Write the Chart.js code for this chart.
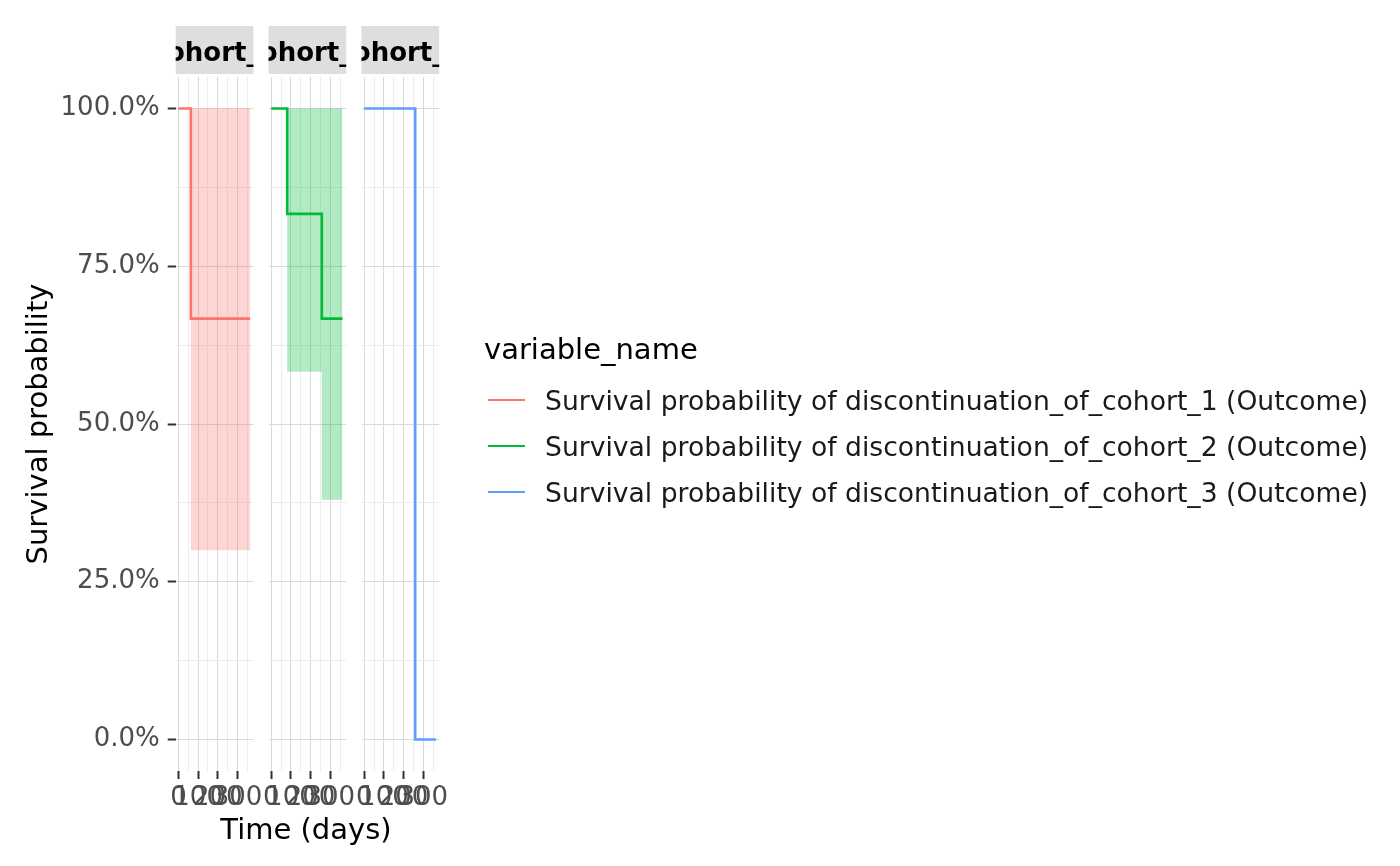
<!DOCTYPE html>
<html>
<head>
<meta charset="utf-8">
<title>Survival probability</title>
<script src="https://cdn.jsdelivr.net/npm/chart.js@4.4.1/dist/chart.umd.min.js"></script>
<style>
  body { margin: 0; width: 1400px; height: 866px; background: #fff; position: relative; overflow: hidden; font-family: 'DejaVu Sans', sans-serif; }
  canvas.panel { position: absolute; left: 0; top: 0; }
  #x-title { position: absolute; left: 206px; width: 200px; top: 815px; text-align: center; font-size: 29px; line-height: 1; color: #000; white-space: nowrap; }
  #legend-title { position: absolute; left: 484px; top: 335px; font-size: 29px; line-height: 1; color: #000; white-space: nowrap; }
  .leg-key { position: absolute; left: 488px; width: 37px; height: 2px; }
  .leg-text { position: absolute; left: 545px; font-size: 26.6px; line-height: 1; color: #1a1a1a; white-space: nowrap; }
</style>
</head>
<body>
<canvas id="p1" class="panel" width="1400" height="866"></canvas>
<canvas id="p2" class="panel" width="1400" height="866"></canvas>
<canvas id="p3" class="panel" width="1400" height="866"></canvas>
<div id="x-title">Time (days)</div>
<div id="legend"></div>
<script>
// facets and series
var cohorts = ['cohort_1', 'cohort_2', 'cohort_3'];
var seriesNames = [
    'Survival probability of discontinuation_of_cohort_1 (Outcome)',
    'Survival probability of discontinuation_of_cohort_2 (Outcome)',
    'Survival probability of discontinuation_of_cohort_3 (Outcome)'
];
var colours = ['#F8766D', '#00BA38', '#619CFF'];
var ribbons = ['rgba(248,118,109,0.3)', 'rgba(0,186,56,0.3)', null];

// values (time in days, probability 0..1)
var time1 = [0, 63, 365];
var surv1 = [1, 0.667, 0.667];
var lower1 = [1, 0.30, 0.30];
var upper1 = [1, 1, 1];

var time2 = [0, 81, 257, 362];
var surv2 = [1, 0.833, 0.667, 0.667];
var lower2 = [1, 0.583, 0.38, 0.38];
var upper2 = [1, 1, 1, 1];

var time3 = [0, 259, 365];
var surv3 = [1, 0, 0];

// axes
var xMajor = [0, 100, 200, 300];
var xMinor = [50, 150, 250, 350];
var xLabels = ['0', '100', '200', '300'];
var yMajor = [0, 0.25, 0.5, 0.75, 1];
var yMinor = [0.125, 0.375, 0.625, 0.875];
var yLabels = ['0.0%', '25.0%', '50.0%', '75.0%', '100.0%'];

var panelLeft = [175.7, 268.5, 361.5];
var panelWidth = 77.7;

Chart.defaults.font.family = "'DejaVu Sans', sans-serif";

function pts(t, v) {
    return t.map(function (x, i) { return { x: x, y: v[i] }; });
}

function sortedTicks(a, b) {
    return a.concat(b).sort(function (p, q) { return p - q; }).map(function (v) { return { value: v }; });
}

var stripPlugin = {
    id: 'strip',
    afterDraw: function (chart, args, opts) {
        var ctx = chart.ctx, area = chart.chartArea;
        var w = area.right - area.left;
        ctx.save();
        ctx.fillStyle = '#dedede';
        ctx.fillRect(area.left, 26, w, 48);
        ctx.beginPath();
        ctx.rect(area.left, 26, w, 48);
        ctx.clip();
        ctx.fillStyle = '#000';
        ctx.font = "bold 26px 'DejaVu Sans'";
        ctx.textAlign = 'center';
        ctx.textBaseline = 'alphabetic';
        ctx.fillText(opts.text, (area.left + area.right) / 2, 60.7);
        ctx.restore();
    }
};

function makePanel(i, datasets) {
    var first = (i === 0);
    var left = panelLeft[i];
    new Chart(document.getElementById('p' + (i + 1)), {
        type: 'line',
        data: { datasets: datasets },
        plugins: [stripPlugin],
        options: {
            responsive: false,
            animation: false,
            layout: {
                padding: { left: first ? 0 : left, right: 1400 - left - panelWidth, top: 77, bottom: 0 }
            },
            plugins: {
                legend: { display: false },
                tooltip: { enabled: false },
                strip: { text: cohorts[i] }
            },
            scales: {
                x: {
                    type: 'linear',
                    min: -14,
                    max: 381,
                    afterBuildTicks: function (s) { s.ticks = sortedTicks(xMajor, xMinor); },
                    afterFit: function (s) { s.height = 95; },
                    border: { display: false },
                    grid: {
                        color: function (c) { return xMajor.indexOf(c.tick.value) >= 0 ? '#d9d9d9' : '#ececec'; },
                        tickColor: function (c) { return xMajor.indexOf(c.tick.value) >= 0 ? '#333333' : 'rgba(0,0,0,0)'; },
                        tickLength: 8,
                        tickWidth: 2,
                        lineWidth: 1
                    },
                    ticks: {
                        autoSkip: false,
                        maxRotation: 0,
                        minRotation: 0,
                        padding: 4,
                        color: '#4d4d4d',
                        font: { size: 26 },
                        callback: function (v) {
                            var k = xMajor.indexOf(v);
                            return k >= 0 ? xLabels[k] : '';
                        }
                    }
                },
                y: {
                    type: 'linear',
                    min: -0.05,
                    max: 1.05,
                    afterBuildTicks: function (s) { s.ticks = sortedTicks(yMajor, yMinor); },
                    afterFit: function (s) { s.width = first ? left : 0; },
                    border: { display: false },
                    grid: {
                        color: function (c) { return yMajor.indexOf(c.tick.value) >= 0 ? '#d9d9d9' : '#ececec'; },
                        tickColor: function (c) { return yMajor.indexOf(c.tick.value) >= 0 ? '#333333' : 'rgba(0,0,0,0)'; },
                        drawTicks: first,
                        tickLength: 8,
                        tickWidth: 2,
                        lineWidth: 1
                    },
                    ticks: {
                        display: first,
                        padding: 8,
                        color: '#4d4d4d',
                        font: { size: 26 },
                        callback: function (v) {
                            var k = yMajor.indexOf(v);
                            return k >= 0 ? yLabels[k] : '';
                        }
                    },
                    title: {
                        display: first,
                        text: 'Survival probability',
                        color: '#000',
                        font: { size: 29 },
                        padding: { top: 21.6, bottom: 0 }
                    }
                }
            }
        }
    });
}

function survLine(i, t, s) {
    return { data: pts(t, s), borderColor: colours[i], borderWidth: 2.6, stepped: true, pointRadius: 0, fill: false };
}
function ribbonUpper(i, t, u) {
    return { data: pts(t, u), borderColor: 'rgba(0,0,0,0)', borderWidth: 0, stepped: true, pointRadius: 0, fill: '+1', backgroundColor: ribbons[i] };
}
function ribbonLower(t, l) {
    return { data: pts(t, l), borderColor: 'rgba(0,0,0,0)', borderWidth: 0, stepped: true, pointRadius: 0, fill: false };
}

makePanel(0, [survLine(0, time1, surv1), ribbonUpper(0, time1, upper1), ribbonLower(time1, lower1)]);
makePanel(1, [survLine(1, time2, surv2), ribbonUpper(1, time2, upper2), ribbonLower(time2, lower2)]);
makePanel(2, [survLine(2, time3, surv3)]);

// legend
var legend = document.getElementById('legend');
var title = document.createElement('div');
title.id = 'legend-title';
title.textContent = 'variable_name';
legend.appendChild(title);
for (var k = 0; k < seriesNames.length; k++) {
    var key = document.createElement('div');
    key.className = 'leg-key';
    key.style.top = (399 + 46 * k) + 'px';
    key.style.background = colours[k];
    legend.appendChild(key);
    var txt = document.createElement('div');
    txt.className = 'leg-text';
    txt.style.top = (388 + 46 * k) + 'px';
    txt.textContent = seriesNames[k];
    legend.appendChild(txt);
}
</script>
</body>
</html>
